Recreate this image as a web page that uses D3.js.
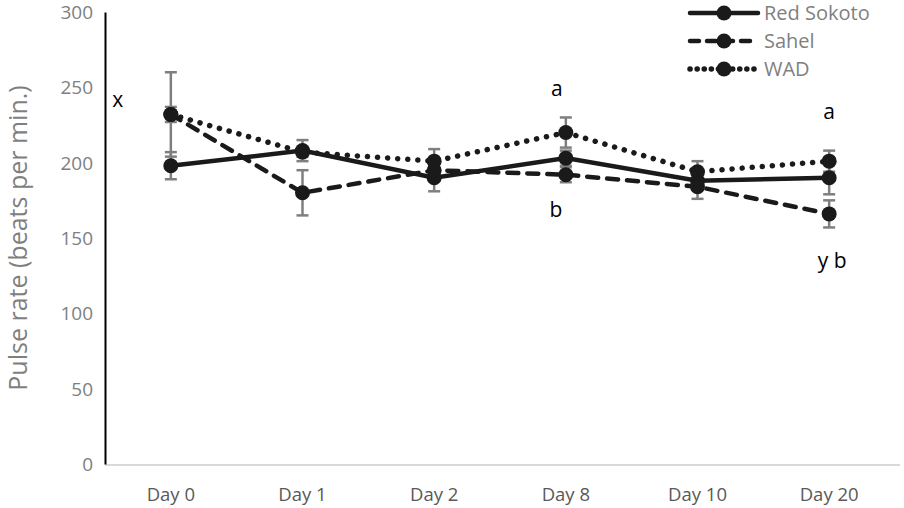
<!DOCTYPE html>
<html>
<head>
<meta charset="utf-8">
<title>Pulse rate</title>
<style>
  body { margin: 0; background: #fff; }
  svg text { font-family: "Open Sans", "Liberation Sans", sans-serif; }
</style>
</head>
<body>
<svg id="chart" width="904" height="508"></svg>
<script src="https://d3js.org/d3.v7.min.js"></script>
<script>
// data
var days = ['Day 0', 'Day 1', 'Day 2', 'Day 8', 'Day 10', 'Day 20'];
var redSokoto = [198, 208, 190, 203, 188, 190];
var sahel = [232, 180, 195, 192, 184, 166];
var wad = [232, 207, 201, 220, 194, 201];
var errRedSokoto = [9, 7, 9, 5, 5, 11];
var errSahel = [28, 15, 4, 5, 8, 9];
var errWad = [5, 3, 8, 10, 7, 7];
var yTicks = [0, 50, 100, 150, 200, 250, 300];
var notes = [
  { day: 'Day 0', value: 237, text: 'x', dx: -53 },
  { day: 'Day 8', value: 244, text: 'a', dx: -9 },
  { day: 'Day 8', value: 164, text: 'b', dx: -10 },
  { day: 'Day 20', value: 229, text: 'a', dx: 0 },
  { day: 'Day 20', value: 130, text: 'y b', dx: 3 }
];

var series = [
  { name: 'Red Sokoto', values: redSokoto, err: errRedSokoto, dash: null },
  { name: 'Sahel', values: sahel, err: errSahel, dash: '11,9' },
  { name: 'WAD', values: wad, err: errWad, dash: '0.1,10' }
];

var svg = d3.select('#chart');
var m = { left: 105, right: 895, top: 12, bottom: 464 };

var x = d3.scaleBand().domain(days).range([m.left, m.right]);
var y = d3.scaleLinear().domain([0, 300]).range([m.bottom, m.top]);
var cx = function (d) { return x(d) + x.bandwidth() / 2; };

// x axis (light grey baseline)
svg.append('line')
  .attr('x1', m.left).attr('x2', 900)
  .attr('y1', m.bottom + 1).attr('y2', m.bottom + 1)
  .attr('stroke', '#d9d9d9').attr('stroke-width', 2);

svg.selectAll('.xlab')
  .data(days)
  .enter().append('text')
  .attr('x', cx)
  .attr('y', 501)
  .attr('text-anchor', 'middle')
  .attr('font-size', 18.5)
  .attr('fill', '#595959')
  .text(function (d) { return d; });

// y axis
var yAxis = d3.axisLeft(y).tickValues(yTicks).tickSize(0).tickPadding(12);
var gy = svg.append('g').attr('transform', 'translate(' + m.left + ',0)').call(yAxis);
gy.select('.domain').attr('stroke', '#000').attr('stroke-width', 2);
gy.selectAll('text')
  .attr('font-size', 19)
  .attr('dy', '0.34em')
  .attr('fill', '#7f7f7f')
  .attr('font-family', '"Open Sans", sans-serif');

svg.append('text')
  .attr('transform', 'translate(27,238) rotate(-90)')
  .attr('text-anchor', 'middle')
  .attr('font-size', 25)
  .attr('fill', '#7f7f7f')
  .text('Pulse rate (beats per min.)');

// error bars
series.forEach(function (s) {
  var g = svg.append('g').attr('stroke', '#7f7f7f').attr('stroke-width', 2.5);
  days.forEach(function (d, i) {
    var px = cx(d), hi = y(s.values[i] + s.err[i]), lo = y(s.values[i] - s.err[i]);
    g.append('line').attr('x1', px).attr('x2', px).attr('y1', hi).attr('y2', lo);
    g.append('line').attr('x1', px - 6).attr('x2', px + 6).attr('y1', hi).attr('y2', hi);
    g.append('line').attr('x1', px - 6).attr('x2', px + 6).attr('y1', lo).attr('y2', lo);
  });
});

// lines and markers
var line = d3.line()
  .x(function (d, i) { return cx(days[i]); })
  .y(function (d) { return y(d); });

series.forEach(function (s) {
  svg.append('path')
    .datum(s.values)
    .attr('d', line)
    .attr('fill', 'none')
    .attr('stroke', '#1a1a1a')
    .attr('stroke-width', s.dash === '0.1,10' ? 5.5 : 4.5)
    .attr('stroke-linecap', s.dash ? 'round' : 'butt')
    .attr('stroke-dasharray', s.dash);
  svg.selectAll(null)
    .data(s.values)
    .enter().append('circle')
    .attr('cx', function (d, i) { return cx(days[i]); })
    .attr('cy', function (d) { return y(d); })
    .attr('r', 7.5)
    .attr('fill', '#1a1a1a');
});

// letters
svg.selectAll('.note')
  .data(notes)
  .enter().append('text')
  .attr('x', function (d) { return cx(d.day) + d.dx; })
  .attr('y', function (d) { return y(d.value); })
  .attr('text-anchor', 'middle')
  .attr('font-size', 21)
  .attr('fill', '#000')
  .text(function (d) { return d.text; });

// legend
var leg = svg.append('g').attr('transform', 'translate(688,0)');
series.forEach(function (s, i) {
  var ly = 13 + i * 28;
  leg.append('line')
    .attr('x1', 2).attr('x2', 70).attr('y1', ly).attr('y2', ly)
    .attr('stroke', '#1a1a1a')
    .attr('stroke-width', s.dash === '0.1,10' ? 5.5 : 4.5)
    .attr('stroke-linecap', 'round')
    .attr('stroke-dasharray', s.dash ? (s.dash === '0.1,10' ? '0.1,7' : '9,8') : null);
  leg.append('circle').attr('cx', 36).attr('cy', ly).attr('r', 7.5).attr('fill', '#1a1a1a');
  leg.append('text')
    .attr('x', 76).attr('y', ly + 7)
    .attr('font-size', 20)
    .attr('fill', '#7f7f7f')
    .text(s.name);
});
</script>
</body>
</html>
